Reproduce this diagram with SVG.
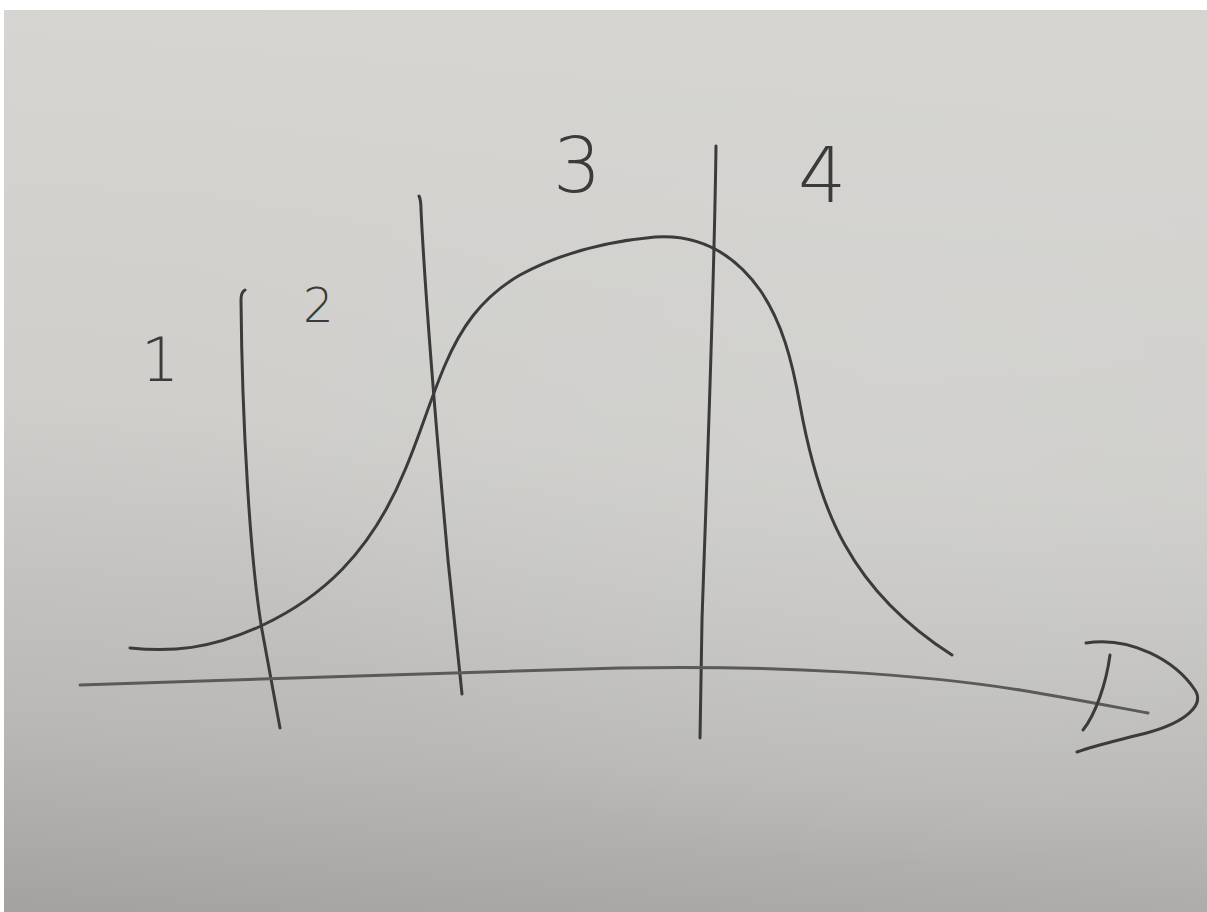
<svg xmlns="http://www.w3.org/2000/svg" width="1207" height="912" viewBox="0 0 1207 912">
<defs>
<linearGradient id="bg" x1="0.2" y1="0" x2="0.1" y2="1">
<stop offset="0" stop-color="#d7d5d1"/>
<stop offset="0.45" stop-color="#cfcecb"/>
<stop offset="0.8" stop-color="#b9b8b6"/>
<stop offset="1" stop-color="#a4a3a1"/>
</linearGradient>
<radialGradient id="shine" cx="0.75" cy="0.35" r="0.6">
<stop offset="0" stop-color="#d4d4d2" stop-opacity="0.6"/>
<stop offset="1" stop-color="#d4d4d2" stop-opacity="0"/>
</radialGradient>
<style>
.ink{fill:none;stroke:#3b3b3b;stroke-width:3;stroke-linecap:round;stroke-linejoin:round}
.axis{fill:none;stroke:#5a5a5a;stroke-width:3;stroke-linecap:round}
.lbl{font-family:"DejaVu Sans","Liberation Sans",sans-serif;font-weight:200;fill:#3b3b3b}
</style>
</defs>
<rect width="1207" height="912" fill="#ffffff"/>
<rect x="4" y="10" width="1203" height="902" fill="url(#bg)"/>
<rect x="4" y="10" width="1203" height="902" fill="url(#shine)"/>

<g id="dividers">
<path class="ink" d="M245,290 Q241,292 241,300 C242,420 250,560 262,630 L280,728"/>
<path class="ink" d="M419,196 Q421,200 421,210 C427,330 440,470 448,560 L462,694"/>
<path class="ink" d="M716,146 C714,300 706,500 702,620 L700,738"/>
</g>

<g id="curve">
<path class="ink" d="M130,648 C170,652 210,650 263,625 C320,598 370,555 405,470 C420,435 430,400 445,365 C460,330 480,298 520,275 C555,256 600,242 655,237 C700,234 735,255 760,290 C782,322 792,360 800,405 C810,460 825,510 845,545 C870,590 905,625 952,655"/>
</g>

<g id="connectors">
<path class="axis" d="M80,685 C250,680 450,672 620,668 C780,665 920,674 1020,690 C1080,700 1120,708 1148,713"/>
<path class="ink" d="M1086,643 C1130,636 1175,660 1195,690 C1205,705 1185,722 1150,732 C1120,740 1095,745 1077,752"/>
<path class="ink" d="M1110,655 C1106,685 1095,715 1083,730"/>
</g>

<g id="label-1"><text class="lbl" x="141" y="381" font-size="60">1</text></g>
<g id="label-2"><text class="lbl" x="303" y="322" font-size="48">2</text></g>
<g id="label-3"><text class="lbl" x="553" y="192" font-size="76">3</text></g>
<g id="label-4"><text class="lbl" x="798" y="202" font-size="76">4</text></g>
</svg>
